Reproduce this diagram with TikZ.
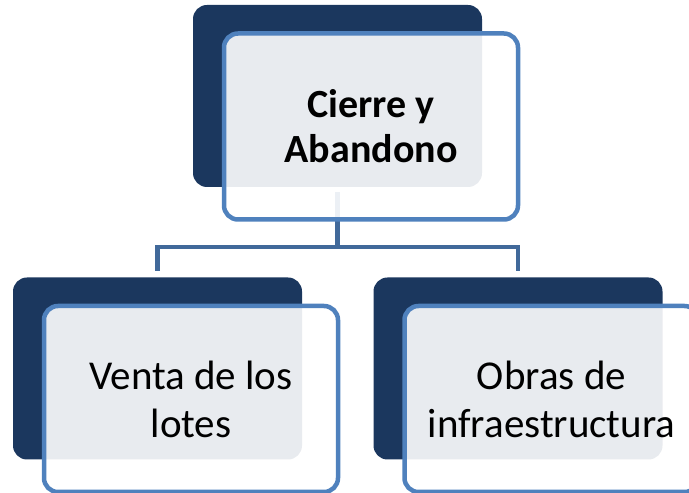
\documentclass[tikz,border=0pt]{standalone}
\usepackage{fontspec}
\setmainfont{Carlito}
\definecolor{navy}{HTML}{1B375E}
\definecolor{framecol}{HTML}{4F81BD}
\definecolor{wirecol}{HTML}{41699A}
\tikzset{
  backbox/.style={rectangle, rounded corners=14pt, fill=navy, inner sep=0pt,
    minimum width=289pt, minimum height=182pt},
  frontbox/.style={rectangle, rounded corners=14pt, draw=framecol, line width=4.5pt,
    fill=white, fill opacity=0.9, text opacity=1, inner sep=0pt, align=center,
    minimum width=294pt, minimum height=186pt, xshift=33.5pt, yshift=-30.5pt,
    font=\fontsize{41}{48}\selectfont},
  wire/.style={draw=wirecol, line width=4.5pt}
}
\begin{document}
\begin{tikzpicture}[x=1pt,y=1pt]
\useasboundingbox (0,0) rectangle (689,493);

% dark boxes behind
\node[backbox] (topback) at (337.5,397) {};
\node[backbox] (leftback) at (157.5,124.5) {};
\node[backbox] (rightback) at (518,124.5) {};

% tree lines
\coordinate (hub) at (337.5,246);
\draw[wire, shorten <=5pt] (topback.south) -- (hub);
\draw[wire, shorten >=6pt] (hub) -| (leftback.north);
\draw[wire, shorten >=6pt] (hub) -| (rightback.north);

% front boxes
\node[frontbox, font=\bfseries\fontsize{40}{45}\selectfont] (top) at (topback) {Cierre y\\Abandono};
\node[frontbox] (venta) at (leftback) {Venta de los\\lotes};
\node[frontbox] (obras) at (rightback) {Obras de\\infraestructura};
\end{tikzpicture}
\end{document}
